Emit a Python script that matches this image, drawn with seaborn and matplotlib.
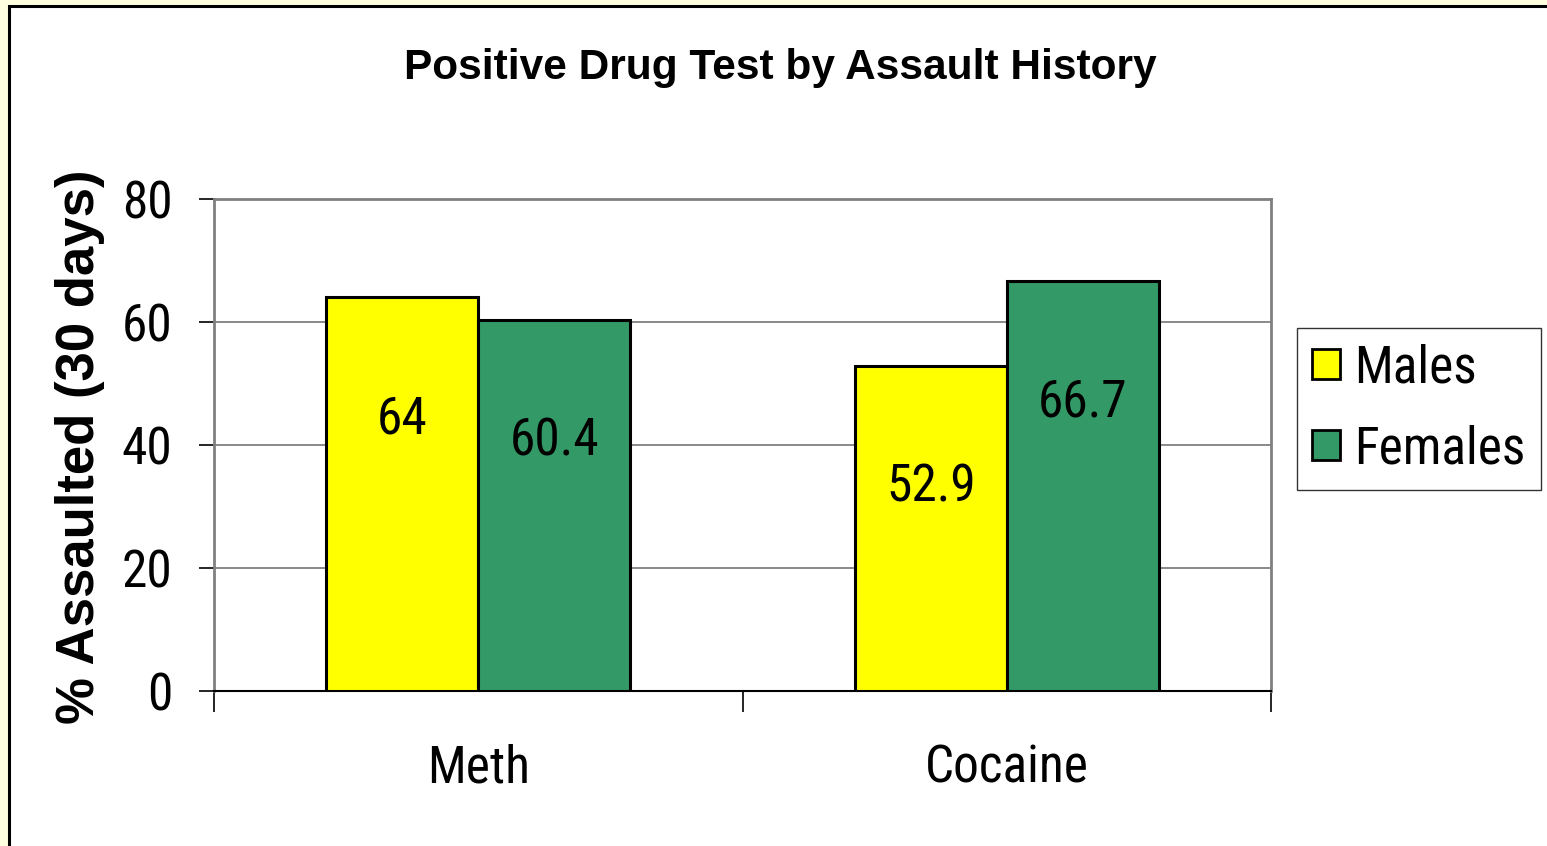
import matplotlib
matplotlib.use("Agg")
import matplotlib.pyplot as plt
from matplotlib.patches import Rectangle
from matplotlib import font_manager
import seaborn as sns
import pandas as pd

drugs = ["Meth", "Cocaine"]
groups = ["Males", "Females"]
males = [64, 52.9]
females = [60.4, 66.7]
yticks = [0, 20, 40, 60, 80]

colors = {"Males": "#FFFF00", "Females": "#339966"}

df = pd.DataFrame({
    "drug": drugs * 2,
    "group": ["Males"] * len(drugs) + ["Females"] * len(drugs),
    "pct": males + females,
})

sns.set_theme(style="white")
names = {f.name for f in font_manager.fontManager.ttflist}
narrow = next((n for n in ["Liberation Sans Narrow", "Roboto Condensed"] if n in names),
              "Liberation Sans")
big = 37 if narrow != "Liberation Sans" else 31
plt.rcParams["font.family"] = ["Liberation Sans", "DejaVu Sans"]
plt.rcParams["text.color"] = "black"
plt.rcParams["xtick.color"] = "black"
plt.rcParams["ytick.color"] = "black"

W, H = 1547, 846
fig = plt.figure(figsize=(W / 100, H / 100), dpi=100, facecolor="#FFFFE0")

# white chart panel with a black frame
panel = Rectangle((9 / W, -0.01), 1 - 9 / W + 0.01, 1.01 - 6 / H, transform=fig.transFigure,
                  facecolor="white", edgecolor="black", linewidth=2.2, zorder=-10)
fig.patches.append(panel)

ax = fig.add_axes([214 / W, 1 - 691 / H, (1271 - 214) / W, (691 - 199) / H])
ax.set_facecolor("white")

sns.barplot(data=df, x="drug", y="pct", hue="group", hue_order=groups,
            palette=colors, width=0.575, gap=0, edgecolor="black", linewidth=2.2,
            saturation=1, ax=ax, legend=False, zorder=3)

ax.set_xlim(-0.5, 1.5)
ax.set_ylim(0, 80)
ax.set_yticks(yticks)
ax.set_yticklabels([str(v) for v in yticks], fontfamily=narrow, fontsize=big)
ax.yaxis.grid(True, color="#808080", linewidth=1.3, zorder=0)
ax.set_axisbelow(True)

# category boundary ticks on the x axis
ax.set_xticks([-0.5, 0.5, 1.5])
ax.set_xticklabels([])
ax.set_xticks([0, 1], minor=True)
ax.set_xticklabels(drugs, minor=True, fontfamily=narrow, fontsize=big)
ax.tick_params(axis="x", which="major", direction="out", length=15, width=1.2,
               color="black", bottom=True)
ax.tick_params(axis="x", which="minor", length=0, pad=38, bottom=True)
ax.tick_params(axis="y", direction="out", length=11, width=1.2, color="black",
               pad=19, left=True)

for side in ["top", "right", "left"]:
    ax.spines[side].set_color("#808080")
    ax.spines[side].set_linewidth(2)
ax.spines["bottom"].set_color("black")
ax.spines["bottom"].set_linewidth(1.5)

ax.set_xlabel("")
ax.set_ylabel("")

# value labels inside the bars
for cont, vals in zip(ax.containers, [males, females]):
    for bar, v in zip(cont, vals):
        ax.text(bar.get_x() + bar.get_width() / 2, v - 19.8, f"{v:g}",
                ha="center", va="center", fontfamily=narrow, fontsize=big, zorder=5)

fig.text(780 / W, 1 - 68 / H, "Positive Drug Test by Assault History",
         ha="center", va="center", fontsize=30.5, fontweight="bold")
fig.text(80 / W, 1 - 447 / H, "% Assaulted (30 days)", rotation=90,
         ha="center", va="center", fontsize=38, fontweight="bold")

handles = [Rectangle((0, 0), 1, 1, facecolor=colors[g], edgecolor="black", linewidth=2)
           for g in groups]
leg = fig.legend(handles, groups, loc="upper left",
                 bbox_to_anchor=(1297 / W, 1 - 328 / H), bbox_transform=fig.transFigure,
                 prop={"family": narrow, "size": big}, frameon=True, fancybox=False,
                 edgecolor="black", borderpad=0.3, handlelength=0.53, handleheight=0.53,
                 handletextpad=0.29, labelspacing=0.6, borderaxespad=0)
leg.get_frame().set_linewidth(1)

fig.savefig("out.png", dpi=100, facecolor=fig.get_facecolor())
